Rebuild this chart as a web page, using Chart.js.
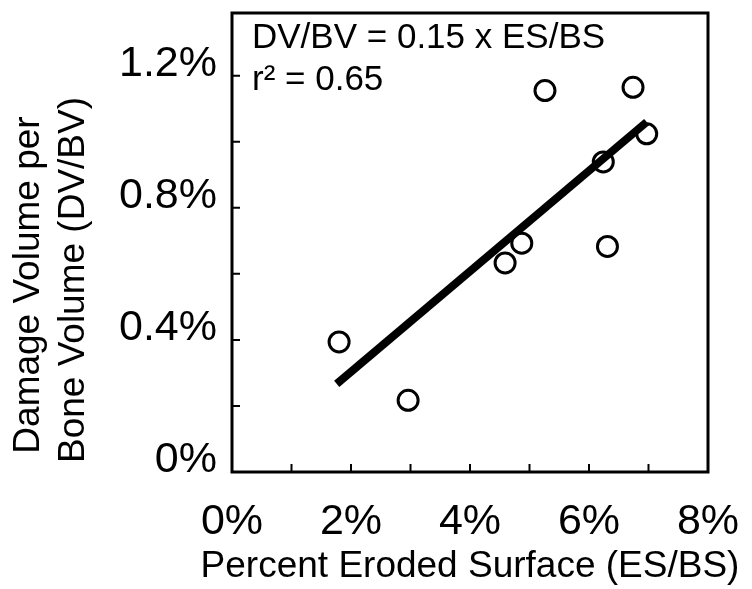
<!DOCTYPE html>
<html>
<head>
<meta charset="utf-8">
<script src="https://cdn.jsdelivr.net/npm/chart.js@4.4.1/dist/chart.umd.min.js"></script>
<style>
  body { margin: 0; background: #fff; }
  #wrap { width: 752px; height: 589px; }
</style>
</head>
<body>
<div id="wrap"><canvas id="scatterChart"></canvas></div>
<script>
// percent eroded surface (ES/BS) and damage volume (DV/BV), both in %
const erodedX = [1.80, 2.96, 4.59, 4.87, 5.26, 6.24, 6.31, 6.74, 6.97];
const damageY = [0.394, 0.217, 0.633, 0.693, 1.155, 0.939, 0.683, 1.165, 1.024];
// regression line endpoints
const fitX = [1.76, 6.97];
const fitY = [0.267, 1.06];
const xTickLabels = ['0%', '2%', '4%', '6%', '8%'];
const yTickLabels = ['0%', '0.4%', '0.8%', '1.2%'];
const xTitle = 'Percent Eroded Surface (ES/BS)';
const yTitle = ['Damage Volume per', 'Bone Volume (DV/BV)'];
const fitText = ['DV/BV = 0.15 x ES/BS', 'r\u00B2 = 0.65'];

const FONT = '"Liberation Sans", Arial, sans-serif';

const frame = {
    id: 'frame',
    afterDatasetsDraw(chart) {
        const { ctx, chartArea: a, scales } = chart;
        ctx.save();
        ctx.strokeStyle = '#000';
        // inward ticks
        ctx.lineWidth = 2;
        ctx.beginPath();
        scales.x.ticks.forEach(t => {
            const px = scales.x.getPixelForValue(t.value);
            ctx.moveTo(px, a.bottom);
            ctx.lineTo(px, a.bottom - 8);
        });
        scales.y.ticks.forEach(t => {
            const py = scales.y.getPixelForValue(t.value);
            ctx.moveTo(a.left, py);
            ctx.lineTo(a.left + 8, py);
        });
        ctx.stroke();
        ctx.lineWidth = 3;
        ctx.strokeRect(a.left, a.top, a.right - a.left, a.bottom - a.top);
        // equation text
        ctx.fillStyle = '#000';
        ctx.font = '35px ' + FONT;
        ctx.textAlign = 'left';
        ctx.textBaseline = 'alphabetic';
        ctx.fillText(fitText[0], a.left + 20, 48);
        ctx.fillText(fitText[1], a.left + 20, 90);
        // x title (drawn here so it is not squeezed to the plot width)
        ctx.font = '37px ' + FONT;
        ctx.textAlign = 'center';
        ctx.fillText(xTitle, (a.left + a.right) / 2, 577);
        // y title
        ctx.font = '37px ' + FONT;
        ctx.textBaseline = 'middle';
        [[29, 285], [74, 280]].forEach((p, i) => {
            ctx.save();
            ctx.translate(p[0], p[1]);
            ctx.rotate(-Math.PI / 2);
            ctx.fillText(yTitle[i], 0, 0);
            ctx.restore();
        });
        ctx.restore();
    }
};

const ctx = document.getElementById('scatterChart').getContext('2d');
new Chart(ctx, {
    type: 'scatter',
    data: {
        datasets: [{
            label: 'fit',
            data: fitX.map((x, i) => ({ x: x, y: fitY[i] })),
            showLine: true,
            borderColor: '#000',
            borderWidth: 8,
            borderCapStyle: 'butt',
            pointRadius: 0
        }, {
            label: 'samples',
            data: erodedX.map((x, i) => ({ x: x, y: damageY[i] })),
            pointStyle: 'circle',
            pointRadius: 10,
            pointBorderWidth: 3,
            pointBorderColor: '#000',
            pointBackgroundColor: 'rgba(0,0,0,0)'
        }]
    },
    options: {
        responsive: true,
        maintainAspectRatio: false,
        animation: false,
        layout: { padding: { top: 9, right: 44, left: 0, bottom: 0 } },
        plugins: { legend: { display: false }, tooltip: { enabled: false } },
        scales: {
            x: {
                min: 0,
                max: 8,
                grid: { display: false, drawTicks: false },
                border: { display: false },
                ticks: {
                    stepSize: 1,
                    autoSkip: false,
                    maxRotation: 0,
                    padding: 24,
                    color: '#000',
                    font: { family: FONT, size: 43 },
                    callback: v => (v % 2 === 0 ? xTickLabels[v / 2] : '')
                },
                afterFit: s => {
                    s.height = 117;
                    s.paddingLeft = 0;
                    s.paddingRight = 0;
                }
            },
            y: {
                min: 0,
                max: 1.39,
                grid: { display: false, drawTicks: false },
                border: { display: false },
                afterBuildTicks: s => {
                    s.ticks = s.ticks.filter(t => Math.abs(t.value * 5 - Math.round(t.value * 5)) < 1e-6);
                },
                ticks: {
                    stepSize: 0.2,
                    autoSkip: false,
                    padding: 15,
                    labelOffset: -12,
                    color: '#000',
                    font: { family: FONT, size: 43 },
                    callback: v => {
                        const k = Math.round(v * 10);
                        return k % 4 === 0 ? yTickLabels[k / 4] : '';
                    }
                },
                afterFit: s => {
                    s.width = 232;
                    s.paddingTop = 0;
                    s.paddingBottom = 0;
                }
            }
        }
    },
    plugins: [frame]
});
</script>
</body>
</html>
